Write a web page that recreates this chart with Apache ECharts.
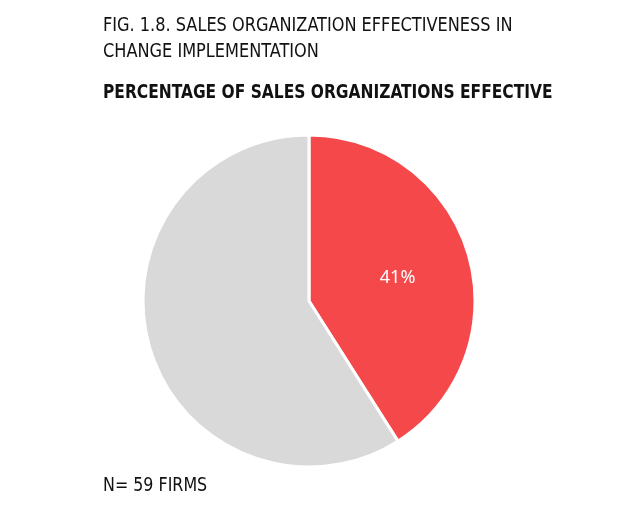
<!DOCTYPE html>
<html><head><meta charset="utf-8">
<script src="https://cdn.jsdelivr.net/npm/echarts@6/dist/echarts.min.js"></script>
<style>html,body{margin:0;padding:0;background:#fff}#c{width:618px;height:508px}</style>
</head><body><div id="c"></div>
<script>
var categories = ['Effective', 'Not effective'];
var values = [41, 59];
var colors = ['#f4484b', '#d9d9d9'];
var titleLines = ['FIG. 1.8. SALES ORGANIZATION EFFECTIVENESS IN', 'CHANGE IMPLEMENTATION'];
var subtitle = 'PERCENTAGE OF SALES ORGANIZATIONS EFFECTIVE';
var note = 'N= 59 FIRMS';
var font = '"Liberation Sans Narrow", "DejaVu Sans Condensed", sans-serif';

var chart = echarts.init(document.getElementById('c'));
chart.setOption({
  animation: false,
  graphic: [
    {type:'text', x:103, y:13, scaleX:0.945, style:{text:titleLines.join('\n'), font:'19px ' + font, fill:'#111', lineHeight:26, verticalAlign:'top'}},
    {type:'text', x:103, y:83, scaleX:0.86, style:{text:subtitle, font:'bold 20px ' + font, fill:'#111', verticalAlign:'top'}},
    {type:'text', x:103, y:477, scaleX:0.93, style:{text:note, font:'19px ' + font, fill:'#111', verticalAlign:'top'}}
  ],
  series: [{
    type:'pie',
    center:[309, 301],
    radius:[0, 166],
    startAngle:90,
    clockwise:true,
    itemStyle:{borderColor:'#fff', borderWidth:3},
    label:{show:true, position:'inside', formatter: function(p){ return p.dataIndex===0 ? p.value + '%' : ''; },
      color:'#fff', fontSize:18, fontFamily:'"Noto Sans", sans-serif', offset:[6,1]},
    labelLine:{show:false},
    emphasis:{disabled:true},
    data: categories.map(function(c,i){ return {name:c, value:values[i], itemStyle:{color:colors[i]}}; })
  }]
});
</script></body></html>
